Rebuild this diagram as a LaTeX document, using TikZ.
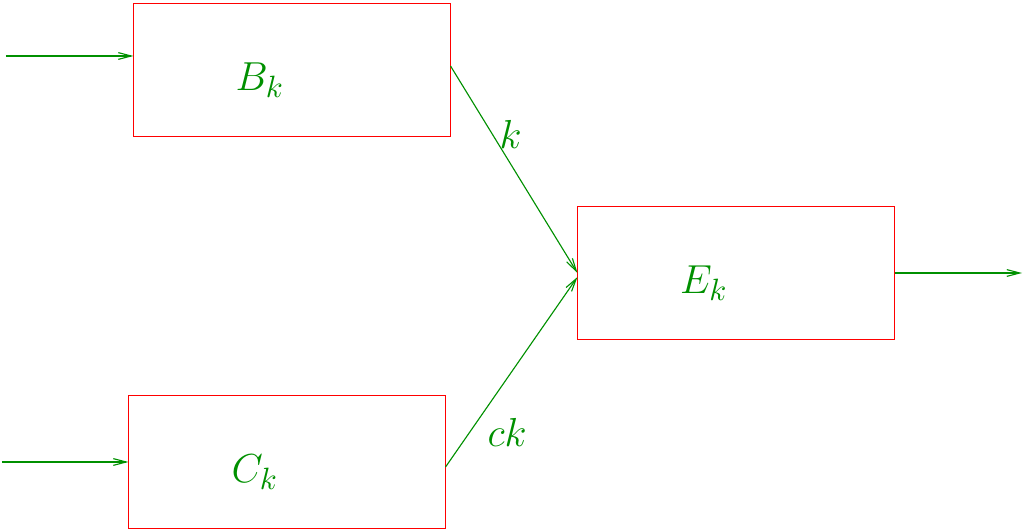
\documentclass[tikz,border=0pt]{standalone}
\usepackage{xcolor}
\usepackage{amsmath}
\usepackage{tikz}
\usetikzlibrary{arrows.meta, positioning, calc}
\definecolor{boxred}{RGB}{255,0,0}
\definecolor{flowgreen}{RGB}{0,144,0}
\tikzset{
  block/.style={rectangle, draw=boxred, line width=0.35pt, minimum width=3.95cm,
    minimum height=1.65cm, inner sep=0pt},
  blocklbl/.style={label={[text=flowgreen, font=\fontsize{15.5}{18}\selectfont,
    xshift=-0.4cm, yshift=-0.125cm]center:#1}},
  arr/.style={-{Straight Barb[length=4.6pt, width=2.4pt]}, line width=0.4pt, flowgreen},
  elbl/.style={text=flowgreen, font=\fontsize{15.5}{18}\selectfont},
}
\begin{document}
\begin{tikzpicture}[x=0.0125cm, y=-0.0125cm]
  \useasboundingbox (0,0) rectangle (1027,532);
  \node[block, blocklbl={$B_k$}] (bk) at (292,70) {};
  \node[block, blocklbl={$C_k$}] (ck) at (287,462) {};
  \node[block, blocklbl={$E_k$}] (ek) at (736,273) {};

  \coordinate (inb) at (6,56);
  \coordinate (inc) at (2,462);
  \coordinate (oute) at (1022,273);

  \draw[arr] (inb) -- (inb -| bk.west);
  \draw[arr] (inc) -- (inc -| ck.west);
  \draw[arr] ($(bk.east)+(0,-4)$) -- node[elbl, pos=0.33, right=-1pt]{$k$} (ek.west);
  \draw[arr] ($(ck.east)+(0,5)$) -- node[elbl, pos=0.18, right=3pt]{$ck$} ($(ek.west)+(0,4)$);
  \draw[arr] (ek.east) -- (oute);
\end{tikzpicture}
\end{document}
